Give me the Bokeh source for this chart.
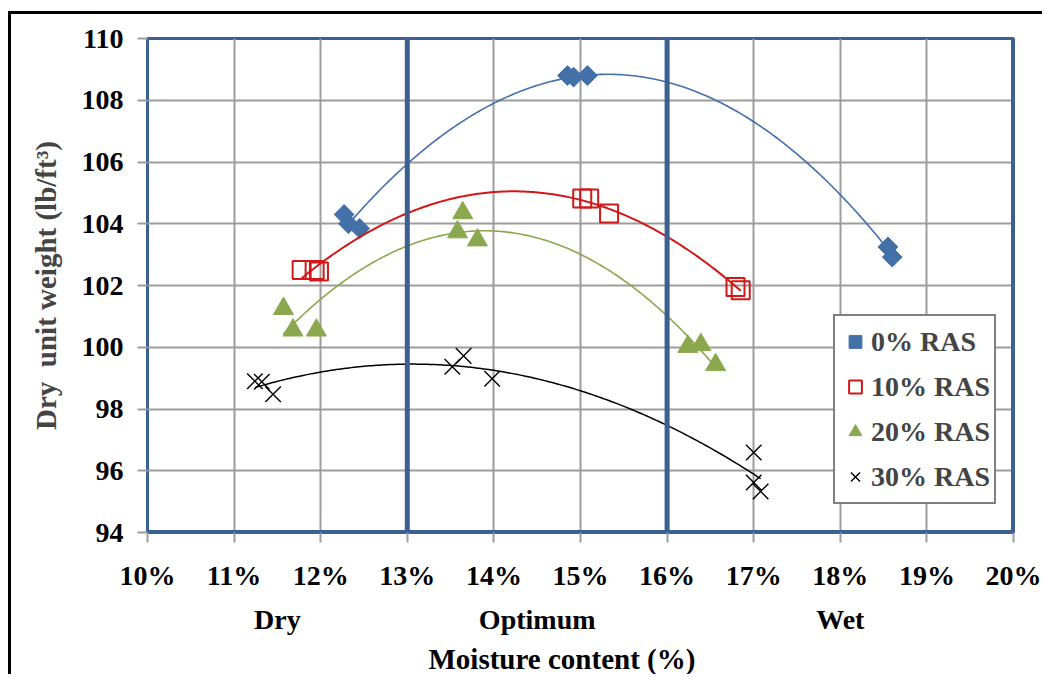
import numpy as np
from bokeh.plotting import figure
from bokeh.models import (Span, Legend, LegendItem, Title, LinearAxis, PrintfTickFormatter,
                          FixedTicker, Range1d)
from bokeh.embed import file_html
from bokeh.resources import INLINE

# Moisture content (%) and dry unit weight (lb/ft3) for each RAS content
ras0_moisture = [12.27, 12.32, 12.45, 14.85, 14.92, 15.08, 18.55, 18.60]
ras0_weight = [104.30, 104.00, 103.85, 108.80, 108.75, 108.80, 103.25, 102.92]
ras10_moisture = [11.78, 11.93, 11.98, 15.02, 15.10, 15.33, 16.79, 16.85]
ras10_weight = [102.50, 102.50, 102.45, 104.82, 104.82, 104.33, 101.95, 101.85]
ras20_moisture = [11.57, 11.68, 11.95, 13.58, 13.64, 13.81, 16.24, 16.39, 16.56]
ras20_weight = [101.25, 100.55, 100.55, 103.73, 104.35, 103.47, 100.02, 100.08, 99.43]
ras30_moisture = [11.24, 11.32, 11.45, 13.52, 13.65, 13.98, 17.00, 17.00, 17.08]
ras30_weight = [98.90, 98.88, 98.48, 99.37, 99.72, 98.98, 96.59, 95.62, 95.33]

series_names = ["0% RAS", "10% RAS", "20% RAS", "30% RAS"]
x_ticks = list(range(10, 21))
y_ticks = list(range(94, 111, 2))
zone_bounds = [13, 16]
zone_names = ["Dry", "Optimum", "Wet"]
zone_centers = [11.5, 14.5, 18.0]

BLUE = "#4470A8"
FRAME = "#3A6192"
RED = "#D01818"
GREEN = "#8BA84E"
GRID = "#9C9C9C"
FONT = "Liberation Serif"

p = figure(width=1034, height=663, x_range=Range1d(10, 20), y_range=Range1d(94, 110),
           output_backend="svg", toolbar_location=None,
           min_border_left=136, min_border_right=32, min_border_top=24,
           min_border_bottom=144)
p.styles = {"border-left": "3px solid black", "border-top": "3px solid black",
            "margin-left": "8px", "margin-top": "11px"}
p.background_fill_color = "white"
p.border_fill_color = "white"
p.outline_line_color = FRAME
p.outline_line_width = 3

# axes
p.xaxis.ticker = FixedTicker(ticks=x_ticks)
p.xaxis.formatter = PrintfTickFormatter(format="%d%%")
p.yaxis.ticker = FixedTicker(ticks=y_ticks)
for ax in (p.xaxis[0], p.yaxis[0]):
    ax.axis_line_color = None
    ax.major_tick_line_color = GRID
    ax.major_tick_line_width = 2
    ax.major_tick_out = 10
    ax.major_tick_in = 0
    ax.minor_tick_line_color = None
    ax.major_label_text_font = FONT
    ax.major_label_text_font_style = "bold"
    ax.major_label_text_font_size = "28px"
    ax.major_label_text_color = "black"
    ax.major_label_standoff = 14
p.xaxis.major_label_standoff = 17
p.yaxis.axis_label = "Dry\u00a0 unit weight (lb/ft³)"
p.yaxis.axis_label_text_font = FONT
p.yaxis.axis_label_text_font_style = "bold"
p.yaxis.axis_label_text_font_size = "29px"
p.yaxis.axis_label_standoff = 17

# moisture zone names on a second, tick-less axis
zone_axis = LinearAxis(ticker=FixedTicker(ticks=zone_centers),
                       major_label_overrides={c: n for c, n in zip(zone_centers, zone_names)})
zone_axis.axis_line_color = None
zone_axis.major_tick_line_color = None
zone_axis.minor_tick_line_color = None
zone_axis.major_tick_out = 0
zone_axis.major_tick_in = 0
zone_axis.major_label_standoff = 10
zone_axis.major_label_text_font = FONT
zone_axis.major_label_text_font_style = "bold"
zone_axis.major_label_text_font_size = "28px"
zone_axis.major_label_text_color = "black"
p.add_layout(zone_axis, "below")

p.add_layout(Title(text="Moisture content (%)", align="left", offset=281, standoff=6,
                   text_font=FONT, text_font_style="bold", text_font_size="29px",
                   text_color="black"), "below")

p.xgrid.ticker = FixedTicker(ticks=x_ticks)
p.ygrid.ticker = FixedTicker(ticks=y_ticks)
for g in (p.xgrid[0], p.ygrid[0]):
    g.grid_line_color = GRID
    g.grid_line_width = 2

# zone boundaries and heavy frame edges
for loc in zone_bounds + [20]:
    p.add_layout(Span(location=loc, dimension="height", line_color=FRAME, line_width=5))
p.add_layout(Span(location=94, dimension="width", line_color=FRAME, line_width=5))


def trend(xs, ys):
    c = np.polyfit(xs, ys, 2)
    xx = np.linspace(min(xs), max(xs), 200)
    return xx, np.polyval(c, xx)


r0 = p.scatter(ras0_moisture, ras0_weight, marker="square", angle=np.pi / 4, size=14,
               fill_color=BLUE, line_color=BLUE)
r1 = p.scatter(ras10_moisture, ras10_weight, marker="square", size=18,
               fill_alpha=0, line_color=RED, line_width=2)
r2 = p.scatter(ras20_moisture, ras20_weight, marker="triangle", size=20,
               fill_color=GREEN, line_color=GREEN)
r3 = p.scatter(ras30_moisture, ras30_weight, marker="x", size=22,
               line_color="black", line_width=1.4)

for xs, ys, col, w in [(ras0_moisture, ras0_weight, BLUE, 1.6),
                       (ras10_moisture, ras10_weight, RED, 2),
                       (ras20_moisture, ras20_weight, GREEN, 1.6),
                       (ras30_moisture, ras30_weight, "black", 1.5)]:
    tx, ty = trend(xs, ys)
    p.line(tx, ty, line_color=col, line_width=w)

legend = Legend(items=[LegendItem(label=n, renderers=[r]) for n, r in
                       zip(series_names, [r0, r1, r2, r3])],
                location=(686, 28))
legend.label_text_font = FONT
legend.label_text_font_style = "bold"
legend.label_text_font_size = "28px"
legend.border_line_color = "black"
legend.border_line_width = 2
legend.background_fill_color = "white"
legend.background_fill_alpha = 1
legend.padding = 4
legend.margin = 0
legend.spacing = 2
legend.glyph_width = 32
legend.glyph_height = 43
legend.label_height = 43
legend.label_standoff = 0
p.add_layout(legend)

open("out.html", "w").write(file_html(p, INLINE))
